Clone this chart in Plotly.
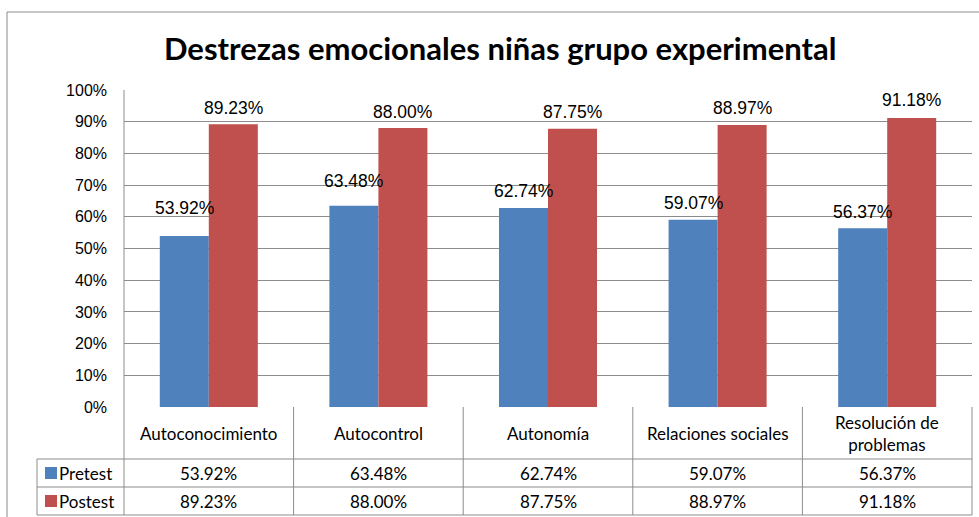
import plotly.graph_objects as go

categories = ["Autoconocimiento", "Autocontrol", "Autonomía", "Relaciones sociales", "Resolución de problemas"]
table_labels = ["Autoconocimiento", "Autocontrol", "Autonomía", "Relaciones sociales", "Resolución de<br>problemas"]
pretest = [53.92, 63.48, 62.74, 59.07, 56.37]
postest = [89.23, 88.00, 87.75, 88.97, 91.18]
series_names = ["Pretest", "Postest"]
y_ticks = [0, 10, 20, 30, 40, 50, 60, 70, 80, 90, 100]
title = "Destrezas emocionales niñas grupo experimental"

BLUE = "#4F81BD"
RED = "#C0504D"
GRID = "#8C8C8C"
W, H = 979, 517
L, R, T, B = 124, 972, 90, 407  # plot area pixels

def px(x):
    return (x - L) / (R - L)

def py(y):
    return (B - y) / (B - T)

fig = go.Figure()
fig.add_trace(go.Bar(x=categories, y=pretest, name=series_names[0], marker=dict(color=BLUE, line=dict(width=0))))
fig.add_trace(go.Bar(x=categories, y=postest, name=series_names[1], marker=dict(color=RED, line=dict(width=0))))

shapes = []
def line(x0, y0, x1, y1, color=GRID, w=1):
    shapes.append(dict(type="line", xref="paper", yref="paper", x0=x0, y0=y0, x1=x1, y1=y1,
                       line=dict(color=color, width=w), layer="above"))

# outer chart border
line(px(7), py(12), px(980), py(12))
line(px(7), py(12), px(7), py(520))
# axis line (left) extended through category row
line(0, 1, 0, py(459))
# table rows
row_cat = 459
row_pre = 487
row_post = 515
for yy in [row_cat, row_pre, row_post]:
    line(px(37), py(yy), 1, py(yy))
# table columns
n = len(categories)
for i in range(1, n + 1):
    line(i / n, 0, i / n, py(row_post))
line(0, py(row_cat), 0, py(row_post))
line(px(37), py(row_cat), px(37), py(row_post))

# legend keys in table
for yy, col in [((row_cat + row_pre) / 2, BLUE), ((row_pre + row_post) / 2, RED)]:
    shapes.append(dict(type="rect", xref="paper", yref="paper",
                       x0=px(45), x1=px(57), y0=py(yy - 6), y1=py(yy + 6),
                       fillcolor=col, line=dict(width=0), layer="above"))

annotations = []
TFONT = dict(family="Lato, 'Noto Sans', sans-serif", size=17, color="#000000")
TICKFONT = dict(family="'Liberation Sans', Arial, sans-serif", size=16, color="#000000")
LFONT = dict(family="'Liberation Sans', Arial, sans-serif", size=17.5, color="#000000")

# category labels
for i, lab in enumerate(table_labels):
    annotations.append(dict(xref="paper", yref="paper", x=(i + 0.5) / n, y=py((B + row_cat) / 2),
                            text=lab, showarrow=False, font=TFONT, xanchor="center", yanchor="middle"))
# legend text + values
for yy, name, vals in [((row_cat + row_pre) / 2, series_names[0], pretest),
                       ((row_pre + row_post) / 2, series_names[1], postest)]:
    annotations.append(dict(xref="paper", yref="paper", x=px(57), y=py(yy), text=name, showarrow=False,
                            font=TFONT, xanchor="left", yanchor="middle"))
    for i, v in enumerate(vals):
        annotations.append(dict(xref="paper", yref="paper", x=(i + 0.5) / n, y=py(yy), text=f"{v:.2f}%",
                                showarrow=False, font=TFONT, xanchor="center", yanchor="middle"))

# data labels
pre_shift = [28, 25, 17, 17, 16]
post_shift = [16, 16, 17, 17, 18]
bar_half = 24.5
for c, v, s in zip(categories, pretest, pre_shift):
    annotations.append(dict(xref="x", yref="y", x=c, y=v, text=f"{v:.2f}%", showarrow=False, font=LFONT,
                            xshift=-bar_half, yshift=s, xanchor="center", yanchor="middle"))
for c, v, s in zip(categories, postest, post_shift):
    annotations.append(dict(xref="x", yref="y", x=c, y=v, text=f"{v:.2f}%", showarrow=False, font=LFONT,
                            xshift=bar_half, yshift=s, xanchor="center", yanchor="middle"))

# title
annotations.append(dict(xref="paper", yref="paper", x=px(500), y=py(48), text=f"<b>{title}</b>",
                        showarrow=False, font=dict(family="Lato, 'Noto Sans', sans-serif", size=31, color="#000000"),
                        xanchor="center", yanchor="middle"))

fig.update_layout(
    width=W, height=H,
    margin=dict(l=L, r=W - R, t=T, b=H - B, pad=0),
    paper_bgcolor="white", plot_bgcolor="white",
    barmode="group", bargap=0.422, bargroupgap=0,
    showlegend=False,
    shapes=shapes, annotations=annotations,
    xaxis=dict(showticklabels=False, showgrid=False, zeroline=False, showline=False, ticks=""),
    yaxis=dict(range=[0, 100], tickvals=y_ticks, ticktext=[f"{t}%" for t in y_ticks],
               showgrid=True, gridcolor=GRID, gridwidth=1, zeroline=False, showline=False,
               ticks="", tickfont=TICKFONT, ticklabelstandoff=16),
)

fig.write_html("out.html", config={"displayModeBar": False},
               post_script="document.body.style.margin='0';document.body.style.padding='0';")
